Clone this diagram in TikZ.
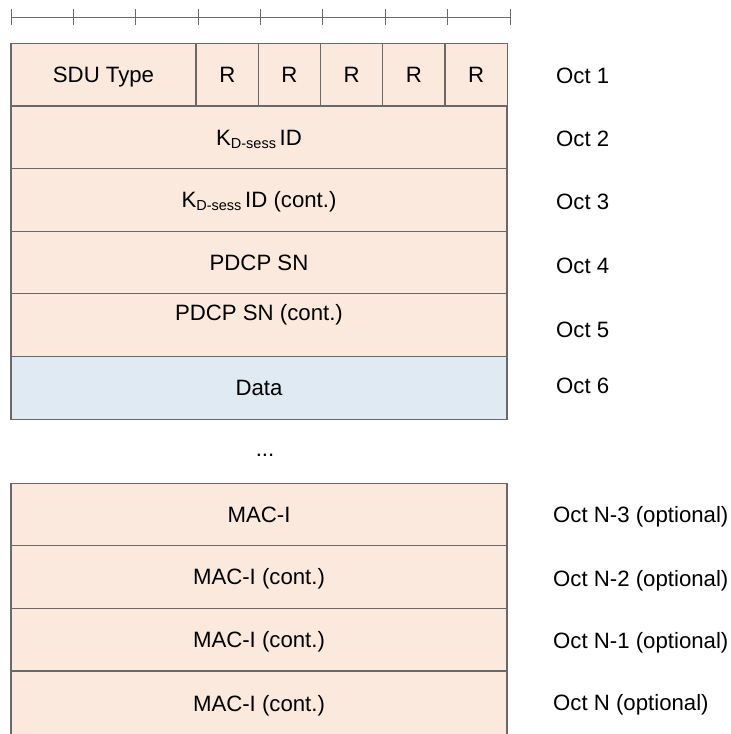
\documentclass[tikz,border=0pt]{standalone}
\usepackage{fontspec}
\setmainfont{Liberation Sans}
\definecolor{peach}{RGB}{250,233,220}
\definecolor{datablue}{RGB}{223,234,243}
\definecolor{edgegray}{RGB}{105,105,105}
\tikzset{
  field/.style={draw=edgegray, line width=1.2pt, fill=peach, minimum height=62.5pt, inner sep=0pt, text height=15.5pt, text depth=0pt},
  datafield/.style={field, fill=datablue},
  octlabel/.style={anchor=west, inner sep=0pt, text height=15.5pt, text depth=0pt},
}
\newcommand{\kdsess}{K\raisebox{-3pt}{\fontsize{14.5}{14.5}\selectfont D-sess}\,ID}
\begin{document}
\begin{tikzpicture}[x=1pt,y=-1pt,font=\fontsize{22.2}{26}\selectfont]
\useasboundingbox (0,0) rectangle (731,734);
\draw[edgegray, line width=1pt] (11,17) -- (510,17); %edit here for the ruler
\foreach \i in {0,...,8} % edit here for the ticks
\draw[shift={(11+62.375*\i,17)},color=edgegray, line width=1pt] (0,-8) -- (0,8);
% octet 1
\node[field, minimum width=185pt] (sdu) at (103.5,74.5) {SDU Type};
\foreach \i in {1,...,5} % edit here for the R bits
\node[field, minimum width=62.2pt] (r\i) at (165.1+62.2*\i,74.5) {R};
% octets 2-6
\node[field, minimum width=496pt] (kid) at (259,137.5) {\kdsess};
\node[field, minimum width=496pt] (kidcont) at (259,200) {\kdsess\ (cont.)};
\node[field, minimum width=496pt] (sn) at (259,262.5) {PDCP SN};
\node[field, minimum width=496pt, minimum height=63.5pt] (sncont) at (259,325.25) {};
\node[text height=15.5pt, text depth=0pt] (sncontlabel) at ([yshift=13pt]sncont.center) {PDCP SN (cont.)};
\node[datafield, minimum width=496pt] (data) at (259,388) {Data};
\node[inner sep=0pt] (dots) at (265,455) {...};
% octets N-3 to N
\node[field, minimum width=496pt] (mac) at (259,515) {MAC-I};
\node[field, minimum width=496pt] (mac2) at (259,577) {MAC-I (cont.)};
\node[field, minimum width=496pt] (mac1) at (259,639.5) {MAC-I (cont.)};
\node[field, minimum width=496pt, minimum height=66pt] (mac0) at (259,704) {MAC-I (cont.)};
% labels on the right
\foreach \n/\y in {1/75.5, 2/139, 3/202, 4/266, 5/330, 6/386}
\node[octlabel] (oct\n) at (556,\y) {Oct \n};
\node[octlabel] (octn3) at (553,515) {Oct N-3 (optional)};
\node[octlabel] (octn2) at (553,579) {Oct N-2 (optional)};
\node[octlabel] (octn1) at (553,641) {Oct N-1 (optional)};
\node[octlabel] (octn) at (553,703) {Oct N (optional)};
\end{tikzpicture}
\end{document}
